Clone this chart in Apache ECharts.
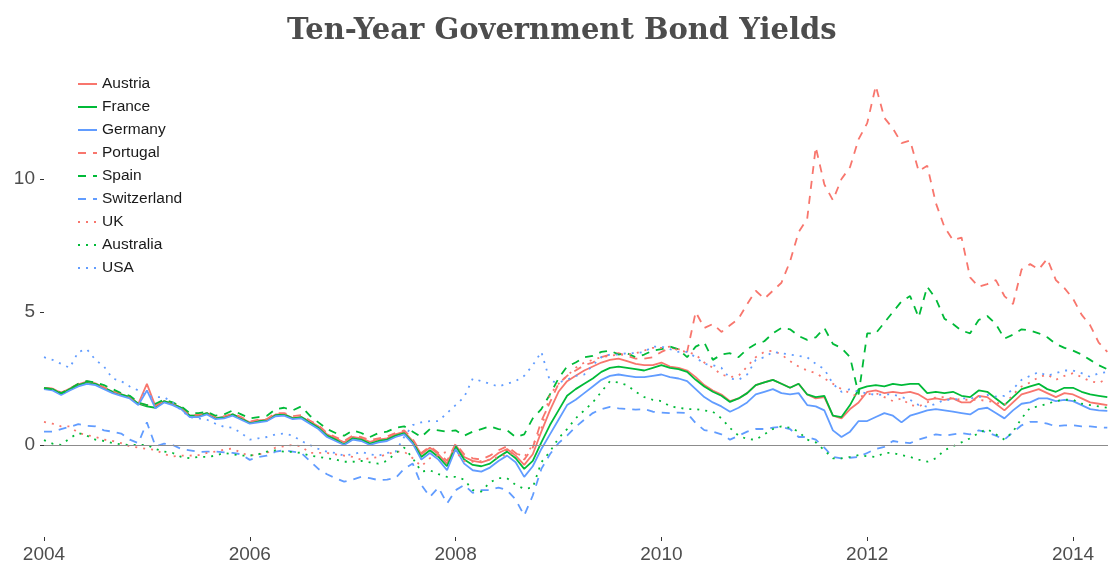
<!DOCTYPE html>
<html>
<head>
<meta charset="utf-8">
<script src="https://cdn.jsdelivr.net/npm/echarts@6/dist/echarts.min.js"></script>
<style>
html,body{margin:0;padding:0;background:#fff;}
#chart{width:1111px;height:565px;}
</style>
</head>
<body>
<div id="chart"></div>
<script>
// Monthly observations, Jan 2004 .. May 2014
const startYear = 2004;
const nMonths = 125;

const austria = [
  2.15, 2.12, 1.95, 2.12, 2.28, 2.38, 2.32, 2.15, 2.0, 1.9, 1.8, 1.55,
  2.3, 1.45, 1.65, 1.55, 1.4, 1.1, 1.1, 1.2, 1.02, 1.05, 1.15, 1.0,
  0.85, 0.92, 0.95, 1.15, 1.15, 1.02, 1.05, 0.88, 0.7, 0.4, 0.25, 0.1,
  0.3, 0.25, 0.12, 0.2, 0.25, 0.4, 0.5, 0.15, -0.35, -0.1, -0.35, -0.7,
  0.0, -0.45, -0.6, -0.65, -0.55, -0.3, -0.15, -0.4, -0.75, -0.35, 0.5, 1.3,
  2.0, 2.4, 2.6, 2.8, 2.95, 3.1, 3.2, 3.25, 3.15, 3.05, 3.0, 3.0,
  3.1, 2.95, 2.9, 2.8, 2.55, 2.25, 2.05, 1.9, 1.65, 1.75, 1.95, 2.25,
  2.35, 2.45, 2.3, 2.15, 2.3, 1.9, 1.75, 1.8, 1.1, 1.0, 1.35, 1.6,
  2.0, 2.05, 1.95, 2.0, 1.95, 2.0, 1.9, 1.7, 1.75, 1.7, 1.75, 1.6,
  1.6, 1.85, 1.8, 1.55, 1.3, 1.6, 1.9, 2.0, 2.1, 1.95, 1.8, 1.95,
  1.9, 1.75, 1.6, 1.55, 1.5
];
const france = [
  2.14, 2.1, 1.92, 2.1, 2.25, 2.35, 2.3, 2.15, 2.0, 1.9, 1.8, 1.55,
  1.45, 1.4, 1.65, 1.55, 1.4, 1.1, 1.1, 1.2, 1.0, 1.05, 1.15, 1.0,
  0.82, 0.9, 0.92, 1.12, 1.15, 1.0, 1.05, 0.85, 0.65, 0.35, 0.2, 0.02,
  0.25, 0.2, 0.05, 0.15, 0.2, 0.35, 0.45, 0.1, -0.45, -0.2, -0.45, -0.8,
  -0.05, -0.55, -0.75, -0.8, -0.7, -0.45, -0.25, -0.5, -0.9, -0.6, 0.1, 0.75,
  1.3, 1.85, 2.1, 2.3, 2.5, 2.75, 2.9, 2.95, 2.9, 2.85, 2.8, 2.9,
  3.0, 2.9, 2.85, 2.75, 2.45, 2.2, 2.0, 1.85, 1.62, 1.75, 1.95, 2.25,
  2.35, 2.45, 2.3, 2.15, 2.3, 1.9, 1.8, 1.85, 1.1, 1.05, 1.5, 2.1,
  2.2, 2.25, 2.2, 2.3, 2.25, 2.3, 2.3, 1.95, 2.0, 1.95, 2.0, 1.85,
  1.8, 2.05, 2.0, 1.75, 1.5, 1.8, 2.1, 2.2, 2.3, 2.1, 2.0, 2.15,
  2.15, 2.0, 1.9, 1.85, 1.8
];
const germany = [
  2.1, 2.05, 1.88, 2.05, 2.2, 2.3, 2.25, 2.1, 1.95, 1.85, 1.75, 1.5,
  2.05, 1.38, 1.6, 1.5, 1.35, 1.05, 1.05, 1.15, 0.97, 1.0, 1.1, 0.95,
  0.8, 0.85, 0.9, 1.08, 1.1, 0.97, 1.0, 0.8, 0.6, 0.3, 0.15, 0.0,
  0.2, 0.15, 0.0, 0.1, 0.15, 0.3, 0.4, 0.05, -0.55, -0.3, -0.55, -0.95,
  -0.15, -0.7, -0.95, -1.0, -0.85, -0.6, -0.4, -0.65, -1.2, -0.8, -0.15, 0.4,
  0.95, 1.5, 1.7, 1.95, 2.2, 2.45, 2.6, 2.65, 2.6, 2.55, 2.55, 2.6,
  2.65, 2.55, 2.5, 2.4, 2.1, 1.8, 1.6, 1.45, 1.25, 1.4, 1.6, 1.9,
  2.0, 2.1, 1.95, 1.9, 1.95, 1.5, 1.45, 1.3, 0.55, 0.3, 0.5, 0.9,
  0.9, 1.05, 1.2, 1.1, 0.85, 1.1, 1.2, 1.3, 1.35, 1.3, 1.25, 1.2,
  1.15, 1.35, 1.4, 1.2, 1.0, 1.3, 1.55, 1.6, 1.75, 1.75, 1.65, 1.7,
  1.65, 1.5, 1.35, 1.3, 1.28
];
const portugal = [
  2.15, 2.12, 1.97, 2.12, 2.3, 2.4, 2.33, 2.17, 2.03, 1.93, 1.82, 1.58,
  1.5, 1.48, 1.67, 1.58, 1.43, 1.13, 1.13, 1.23, 1.05, 1.08, 1.18, 1.05,
  0.88, 0.95, 0.98, 1.2, 1.2, 1.08, 1.12, 0.92, 0.75, 0.45, 0.3, 0.15,
  0.35, 0.3, 0.18, 0.25, 0.32, 0.45, 0.55, 0.22, -0.3, -0.05, -0.3, -0.6,
  0.05, -0.35, -0.5, -0.55, -0.4, -0.2, -0.05, -0.3, -0.55, -0.1, 0.9, 1.6,
  2.3, 2.6, 2.8, 3.0, 3.1, 3.3, 3.4, 3.45, 3.35, 3.25, 3.25, 3.3,
  3.5, 3.65, 3.6, 3.5, 5.0, 4.4, 4.55, 4.25, 4.5, 4.75, 5.3, 5.8,
  5.5, 5.8, 6.1, 6.9, 8.0, 8.5, 11.2, 9.8, 9.2, 10.0, 10.45, 11.5,
  12.1, 13.5, 12.3, 11.9, 11.35, 11.45, 10.3, 10.5, 9.1, 8.2, 7.7, 7.8,
  6.3, 5.95, 6.05, 6.2, 5.6, 5.3, 6.6, 6.8, 6.6, 7.0, 6.2, 5.9,
  5.5, 4.9, 4.5, 3.85, 3.5
];
const spain = [
  2.15, 2.1, 1.95, 2.1, 2.3, 2.4, 2.35, 2.25, 2.1, 1.95, 1.85, 1.6,
  1.5, 1.55, 1.7, 1.6, 1.45, 1.2, 1.2, 1.25, 1.1, 1.15, 1.3, 1.15,
  1.0, 1.05, 1.1, 1.35, 1.4, 1.3, 1.45, 1.1, 0.85, 0.6, 0.45, 0.35,
  0.55, 0.45, 0.3, 0.45, 0.5, 0.65, 0.7, 0.5, 0.3, 0.6, 0.55, 0.5,
  0.55, 0.35, 0.5, 0.6, 0.7, 0.6, 0.55, 0.3, 0.4, 1.0, 1.35, 1.9,
  2.5, 2.95, 3.1, 3.3, 3.35, 3.5, 3.55, 3.4, 3.45, 3.3, 3.4, 3.55,
  3.6, 3.7, 3.6, 3.3, 3.7, 3.85, 3.2, 3.4, 3.45, 3.3, 3.6, 3.8,
  3.9, 4.2, 4.4, 4.35, 4.1, 3.95, 4.05, 4.4, 3.8, 3.65, 3.3, 1.9,
  4.2, 4.2, 4.6, 5.0, 5.4, 5.6, 4.8, 5.95, 5.5, 4.75, 4.55, 4.3,
  4.2, 4.7, 4.85, 4.55, 4.0, 4.15, 4.35, 4.3, 4.2, 4.05, 3.8, 3.65,
  3.55, 3.4, 3.2, 3.0, 2.85
];
const switzerland = [
  0.5, 0.5, 0.6, 0.68, 0.78, 0.72, 0.7, 0.55, 0.5, 0.43, 0.2, 0.07,
  0.85, -0.05, 0.05, 0.0, -0.15, -0.2, -0.26, -0.25, -0.25, -0.28, -0.3, -0.35,
  -0.56, -0.45, -0.4, -0.25, -0.2, -0.25, -0.3, -0.6, -0.9, -1.1, -1.25, -1.38,
  -1.3, -1.2, -1.25, -1.32, -1.3, -1.24, -0.9, -0.7, -1.5, -1.95, -1.6, -2.2,
  -1.7, -1.5, -1.8, -1.7, -1.7, -1.6, -1.7, -2.05, -2.65, -1.9, -0.9, -0.35,
  0.07, 0.35, 0.68, 0.95, 1.2, 1.35, 1.43, 1.38, 1.35, 1.33, 1.35, 1.25,
  1.22, 1.2, 1.22, 1.2, 0.82, 0.56, 0.5, 0.4, 0.2, 0.35, 0.5, 0.6,
  0.6, 0.65, 0.68, 0.6, 0.3, 0.3, 0.2, -0.1, -0.45, -0.5, -0.48, -0.45,
  -0.3, -0.15, -0.07, 0.15, 0.1, 0.07, 0.2, 0.3, 0.4, 0.35, 0.4, 0.45,
  0.4, 0.55, 0.47, 0.35, 0.2, 0.48, 0.74, 0.87, 0.87, 0.8, 0.7, 0.74,
  0.74, 0.7, 0.7, 0.66, 0.65
];
const uk = [
  0.87, 0.8, 0.7, 0.7, 0.45, 0.37, 0.3, 0.2, 0.15, 0.07, -0.05, -0.1,
  -0.15, -0.18, -0.35, -0.43, -0.4, -0.4, -0.38, -0.3, -0.25, -0.18, -0.13, -0.3,
  -0.4, -0.35, -0.3, -0.1, -0.05, 0.0, -0.05, -0.3, -0.3, -0.3, -0.35, -0.4,
  -0.45, -0.55, -0.5, -0.45, -0.35, -0.25, -0.25, -0.5, -0.8, -0.5, -0.38, -0.25,
  -0.25, -0.6, -0.63, -0.6, -0.55, -0.45, -0.35, -0.3, -0.45, 0.0, 0.6, 1.9,
  2.3, 2.6, 2.9, 3.1, 3.2, 3.3, 3.35, 3.4, 3.4, 3.45, 3.55, 3.65,
  3.65, 3.7, 3.55, 3.5, 3.4, 3.1, 2.9, 2.65, 2.55, 2.6, 2.95, 3.3,
  3.5, 3.55, 3.4, 3.15, 2.95, 2.8, 2.7, 2.5, 2.3, 2.1, 1.95, 1.8,
  1.9, 1.95, 1.8, 1.65, 1.75, 1.5, 1.45, 1.6, 1.8, 1.8, 1.75, 1.7,
  1.7, 1.7, 1.65, 1.6, 1.5, 1.9, 2.2, 2.35, 2.55, 2.65, 2.45, 2.6,
  2.7, 2.55, 2.4, 2.33, 2.5
];
const australia = [
  0.18, 0.05, 0.0, 0.25, 0.45, 0.35, 0.2, 0.15, 0.07, 0.02, 0.0, 0.0,
  0.0, -0.15, -0.25, -0.3, -0.45, -0.5, -0.45, -0.45, -0.4, -0.3, -0.35, -0.4,
  -0.4, -0.35, -0.25, -0.2, -0.25, -0.26, -0.3, -0.4, -0.45, -0.5, -0.55, -0.63,
  -0.63, -0.6, -0.65, -0.7, -0.6, -0.3, -0.1, -0.5, -1.0, -0.95, -1.1, -1.2,
  -1.2, -1.3, -1.7, -1.75, -1.4, -1.25, -1.25, -1.5, -1.65, -1.6, -0.65, -0.25,
  0.25, 0.6, 1.0, 1.3, 1.6, 2.0, 2.4, 2.35, 2.25, 2.0, 1.8, 1.7,
  1.65, 1.45, 1.4, 1.35, 1.35, 1.3, 1.25, 1.0, 0.64, 0.35, 0.22, 0.2,
  0.4, 0.6, 0.7, 0.65, 0.5, 0.2, 0.1, -0.2, -0.5, -0.5, -0.45, -0.38,
  -0.42, -0.45, -0.3, -0.3, -0.38, -0.45, -0.55, -0.63, -0.5, -0.2, -0.05, 0.1,
  0.25, 0.45, 0.6, 0.4, 0.2, 0.5, 1.0, 1.4, 1.45, 1.55, 1.65, 1.7,
  1.7, 1.55, 1.5, 1.45, 1.4
];
const usa = [
  3.3, 3.2, 3.05, 2.9, 3.5, 3.6, 3.2, 2.95, 2.5, 2.4, 2.2, 2.05,
  1.85, 1.8, 1.8, 1.6, 1.3, 1.05, 1.0, 0.95, 0.8, 0.68, 0.65, 0.45,
  0.2, 0.25, 0.3, 0.4, 0.43, 0.35, 0.15, 0.0, -0.15, -0.25, -0.3, -0.4,
  -0.35, -0.26, -0.35, -0.4, -0.3, -0.25, 0.3, 0.75, 0.85, 0.9, 0.9, 1.2,
  1.5, 1.8, 2.5, 2.4, 2.3, 2.2, 2.3, 2.4, 2.6, 3.0, 3.5, 2.4,
  2.35, 2.45, 2.6, 2.65, 3.0, 3.3, 3.4, 3.4, 3.45, 3.45, 3.5, 3.7,
  3.7, 3.6, 3.5, 3.5, 3.3, 3.05, 3.0, 2.9, 2.5, 2.45, 2.65, 3.2,
  3.3, 3.5, 3.45, 3.4, 3.35, 3.3, 3.05, 2.85, 2.3, 2.0, 2.1, 2.0,
  1.94, 1.88, 1.9, 1.9, 1.8, 1.7, 1.5, 1.44, 1.55, 1.7, 1.7, 1.75,
  1.75, 1.8, 1.88, 1.82, 1.85, 2.1, 2.45, 2.6, 2.74, 2.6, 2.7, 2.8,
  2.8, 2.7, 2.56, 2.7, 2.74
];

const countries = ['Austria','France','Germany','Portugal','Spain','Switzerland','UK','Australia','USA'];
const seriesValues = [austria, france, germany, portugal, spain, switzerland, uk, australia, usa];
const yearTicks = [2004, 2006, 2008, 2010, 2012, 2014];
const yTicks = [0, 5, 10];

// time of each observation in decimal years
const times = [];
for (let i = 0; i < nMonths; i++) times.push(startYear + i / 12);

const red = '#F8766D', green = '#00BA38', blue = '#619CFF';
const colors = [red, green, blue, red, green, blue, red, green, blue];
const dashes = ['solid','solid','solid',[8,7],[8,7],[8,7],[2,6],[2,6],[2,6]];

const series = countries.map((name, k) => ({
  name: name,
  type: 'line',
  showSymbol: false,
  symbol: 'none',
  data: seriesValues[k].map((v, i) => [times[i], v]),
  lineStyle: { color: colors[k], width: 1.8, type: dashes[k] },
  itemStyle: { color: colors[k] },
  emphasis: { disabled: true },
  z: 3
}));
series.unshift({
  name: 'zero',
  type: 'line',
  data: [],
  silent: true,
  z: 1,
  markLine: {
    silent: true,
    symbol: 'none',
    label: { show: false },
    lineStyle: { color: '#8c8c8c', width: 1.2, type: 'solid' },
    data: [{ yAxis: 0 }]
  }
});

const chart = echarts.init(document.getElementById('chart'), null, { renderer: 'canvas' });
chart.setOption({
  animation: false,
  backgroundColor: '#ffffff',
  title: {
    text: 'Ten-Year Government Bond Yields',
    left: 282,
    top: 12,
    textStyle: { fontFamily: 'DejaVu Serif', fontWeight: 'bold', fontSize: 29, color: '#4d4d4d' }
  },
  legend: {
    data: countries,
    orient: 'vertical',
    left: 72,
    top: 71,
    itemWidth: 19,
    itemHeight: 14,
    itemGap: 7,
    itemStyle: { opacity: 0, borderWidth: 0 },
    textStyle: { fontFamily: 'Liberation Sans', fontSize: 15.5, color: '#1a1a1a' }
  },
  grid: { left: 44, right: 3, top: 62, bottom: 28, containLabel: false },
  xAxis: {
    type: 'value',
    min: 2004,
    max: 2014.34,
    interval: 2,
    splitLine: { show: false },
    axisLine: { show: false, onZero: false },
    axisTick: { show: true, length: 4, lineStyle: { color: '#333' } },
    axisLabel: {
      margin: 8,
      fontFamily: 'Liberation Sans',
      fontSize: 19,
      color: '#4d4d4d',
      formatter: v => String(Math.round(v)),
      showMaxLabel: false
    }
  },
  yAxis: {
    type: 'value',
    min: -3.46,
    max: 14.4,
    splitLine: { show: false },
    axisLine: { show: false, onZero: false },
    axisTick: { show: true, length: 4, lineStyle: { color: '#333' }, customValues: yTicks },
    axisLabel: {
      margin: 9,
      fontFamily: 'Liberation Sans',
      fontSize: 19,
      color: '#4d4d4d',
      customValues: yTicks
    }
  },
  series: series
});
</script>
</body>
</html>
